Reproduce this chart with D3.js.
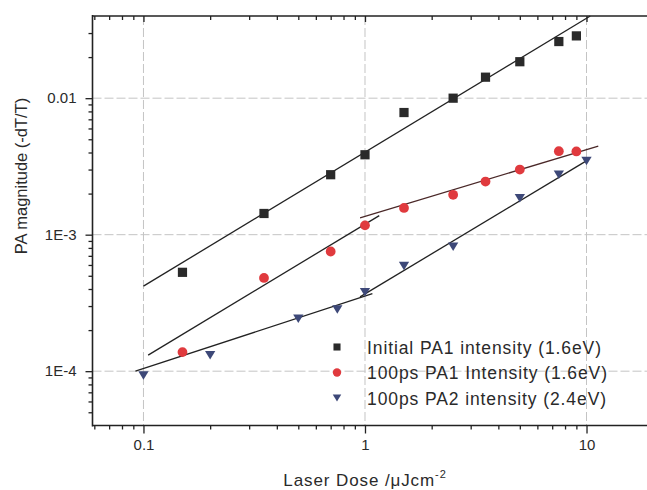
<!DOCTYPE html>
<html>
<head>
<meta charset="utf-8">
<script src="https://cdn.jsdelivr.net/npm/d3@7/dist/d3.min.js"></script>
<style>
  html, body { margin: 0; padding: 0; background: #fff; }
  svg { display: block; }
  text { font-family: "Liberation Sans", Arial, Helvetica, sans-serif; fill: #2a2a2a; }
</style>
</head>
<body>
<svg id="chart" width="647" height="490"></svg>
<script>
// ---- data ----
const doseInitial = [0.15, 0.35, 0.7, 1.0, 1.5, 2.5, 3.5, 5, 7.5, 9];
const paInitial   = [5.3e-4, 1.43e-3, 2.75e-3, 3.85e-3, 7.85e-3, 0.0100, 0.01425, 0.0185, 0.0260, 0.0286];

const dosePA1 = [0.15, 0.35, 0.7, 1.0, 1.5, 2.5, 3.5, 5, 7.5, 9];
const paPA1   = [1.38e-4, 4.82e-4, 7.53e-4, 1.17e-3, 1.57e-3, 1.96e-3, 2.45e-3, 3.0e-3, 4.09e-3, 4.07e-3];

const dosePA2 = [0.1, 0.2, 0.5, 0.75, 1.0, 1.5, 2.5, 5, 7.5, 10];
const paPA2   = [9.3e-5, 1.31e-4, 2.42e-4, 2.83e-4, 3.78e-4, 5.9e-4, 8.15e-4, 1.85e-3, 2.75e-3, 3.46e-3];

// fitted power-law segments: [dose, magnitude] endpoints
const fitInitial  = [[0.1, 4.2e-4], [10.4, 0.04]];
const fitPA1Low   = [[0.105, 1.31e-4], [1.16, 1.38e-3]];
const fitPA1High  = [[0.95, 1.33e-3], [11.3, 4.46e-3]];
const fitPA2Low   = [[0.092, 1.0e-4], [1.08, 3.7e-4]];
const fitPA2High  = [[0.95, 3.5e-4], [10.2, 3.55e-3]];

const xTicks = [0.1, 1, 10];
const xTickLabels = ["0.1", "1", "10"];
const yTicks = [1e-4, 1e-3, 0.01];
const yTickLabels = ["1E-4", "1E-3", "0.01"];

const legendLabels = ["Initial PA1 intensity (1.6eV)", "100ps PA1 Intensity (1.6eV)", "100ps PA2 intensity (2.4eV)"];

// ---- layout ----
const svg = d3.select("#chart");
const x = d3.scaleLog().domain([0.059, 20]).range([92.7, 653.2]);
const y = d3.scaleLog().domain([4e-5, 0.04]).range([425.5, 16]);
const pLeft = 92.5, pTop = 16, pBottom = 425.5, pRight = 647;

function minorsBetween(lo, hi) {
  const out = [];
  for (let e = -6; e <= 3; e++) {
    for (let m = 2; m <= 9; m++) {
      const v = m * Math.pow(10, e);
      if (v > lo * 1.0001 && v < hi * 0.9999) out.push(v);
    }
  }
  return out;
}
const xMinor = minorsBetween(0.059, 20);
const yMinor = minorsBetween(4e-5, 0.04);

// grid
const grid = svg.append("g").attr("stroke", "#c4c4c4").attr("stroke-width", 1).attr("stroke-dasharray", "9,3");
xTicks.forEach(v => grid.append("line").attr("x1", x(v)).attr("x2", x(v)).attr("y1", pTop).attr("y2", pBottom));
yTicks.forEach(v => grid.append("line").attr("x1", pLeft).attr("x2", pRight).attr("y1", y(v)).attr("y2", y(v)));

// axes
const fmtX = d => xTickLabels[xTicks.indexOf(d)];
const fmtY = d => yTickLabels[yTicks.indexOf(d)];

function styleAxis(g) {
  g.select(".domain").remove();
  g.selectAll("line").attr("stroke", "#222").attr("stroke-width", 1.3);
  g.selectAll("text").attr("font-size", 15).style("fill", "#2a2a2a");
}

// bottom
svg.append("g").attr("transform", `translate(0,${pBottom})`)
  .call(d3.axisBottom(x).tickValues(xTicks).tickFormat(fmtX).tickSize(8).tickPadding(6))
  .call(styleAxis);
svg.append("g").attr("transform", `translate(0,${pBottom})`)
  .call(d3.axisBottom(x).tickValues(xMinor).tickFormat("").tickSize(4))
  .call(styleAxis);
// top (inward ticks)
svg.append("g").attr("transform", `translate(0,${pTop})`)
  .call(d3.axisBottom(x).tickValues(xTicks).tickFormat("").tickSize(6))
  .call(styleAxis);
svg.append("g").attr("transform", `translate(0,${pTop})`)
  .call(d3.axisBottom(x).tickValues(xMinor).tickFormat("").tickSize(4))
  .call(styleAxis);
// left
svg.append("g").attr("transform", `translate(${pLeft},0)`)
  .call(d3.axisLeft(y).tickValues(yTicks).tickFormat(fmtY).tickSize(7).tickPadding(9))
  .call(styleAxis);
svg.append("g").attr("transform", `translate(${pLeft},0)`)
  .call(d3.axisLeft(y).tickValues(yMinor).tickFormat("").tickSize(4))
  .call(styleAxis);

// axis lines
svg.append("line").attr("x1", pLeft).attr("x2", pLeft).attr("y1", pTop - 1).attr("y2", pBottom + 1)
  .attr("stroke", "#222").attr("stroke-width", 1.6);
svg.append("line").attr("x1", pLeft).attr("x2", pRight).attr("y1", pBottom).attr("y2", pBottom)
  .attr("stroke", "#222").attr("stroke-width", 1.6);
svg.append("line").attr("x1", pLeft).attr("x2", pRight).attr("y1", pTop).attr("y2", pTop)
  .attr("stroke", "#222").attr("stroke-width", 1.6);

// axis titles
svg.append("text").attr("x", 365).attr("y", 486).attr("text-anchor", "middle")
  .attr("font-size", 17).attr("letter-spacing", 0.9)
  .text("Laser Dose /μJcm")
  .append("tspan").attr("dy", -8).attr("font-size", 11).text("-2");
svg.append("text").attr("transform", "translate(27,176) rotate(-90)").attr("text-anchor", "middle")
  .attr("font-size", 16.5).text("PA magnitude (-dT/T)");

// fit lines
const line = d3.line().x(d => x(d[0])).y(d => y(d[1]));
const fits = [
  [fitInitial, "#222"], [fitPA1Low, "#222"], [fitPA1High, "#4a2828"],
  [fitPA2Low, "#222"], [fitPA2High, "#222"]
];
fits.forEach(([pts, c]) => svg.append("path").attr("d", line(pts))
  .attr("fill", "none").attr("stroke", c).attr("stroke-width", 1.3));

// markers
const colInitial = "#2a2a2a", colPA1 = "#e03a3e", colPA2 = "#3d4878";
const sq = d3.symbol().type(d3.symbolSquare).size(85);
const ci = d3.symbol().type(d3.symbolCircle).size(75);
const triDown = s => {
  const h = Math.sqrt(s) * 0.95, w = Math.sqrt(s) * 1.15;
  return `M${-w/2},${-h/2}L${w/2},${-h/2}L0,${h/2}Z`;
};

svg.append("g").selectAll("path").data(d3.zip(doseInitial, paInitial)).join("path")
  .attr("d", sq).attr("transform", d => `translate(${x(d[0])},${y(d[1])})`).attr("fill", colInitial);
svg.append("g").selectAll("path").data(d3.zip(dosePA1, paPA1)).join("path")
  .attr("d", ci).attr("transform", d => `translate(${x(d[0])},${y(d[1])})`).attr("fill", colPA1);
svg.append("g").selectAll("path").data(d3.zip(dosePA2, paPA2)).join("path")
  .attr("d", triDown(80)).attr("transform", d => `translate(${x(d[0])},${y(d[1])})`).attr("fill", colPA2);

// legend
const lg = svg.append("g");
const lx = 337, ly0 = 347, ldy = 25.5;
lg.append("path").attr("d", d3.symbol().type(d3.symbolSquare).size(50)).attr("transform", `translate(${lx},${ly0})`).attr("fill", colInitial);
lg.append("path").attr("d", d3.symbol().type(d3.symbolCircle).size(55)).attr("transform", `translate(${lx},${ly0 + ldy})`).attr("fill", colPA1);
lg.append("path").attr("d", triDown(55)).attr("transform", `translate(${lx},${ly0 + 2 * ldy})`).attr("fill", colPA2);
legendLabels.forEach((t, i) => lg.append("text").attr("x", 367).attr("y", ly0 + i * ldy + 6.5)
  .attr("font-size", 17.5).attr("letter-spacing", 0.9).text(t));
</script>
</body>
</html>
